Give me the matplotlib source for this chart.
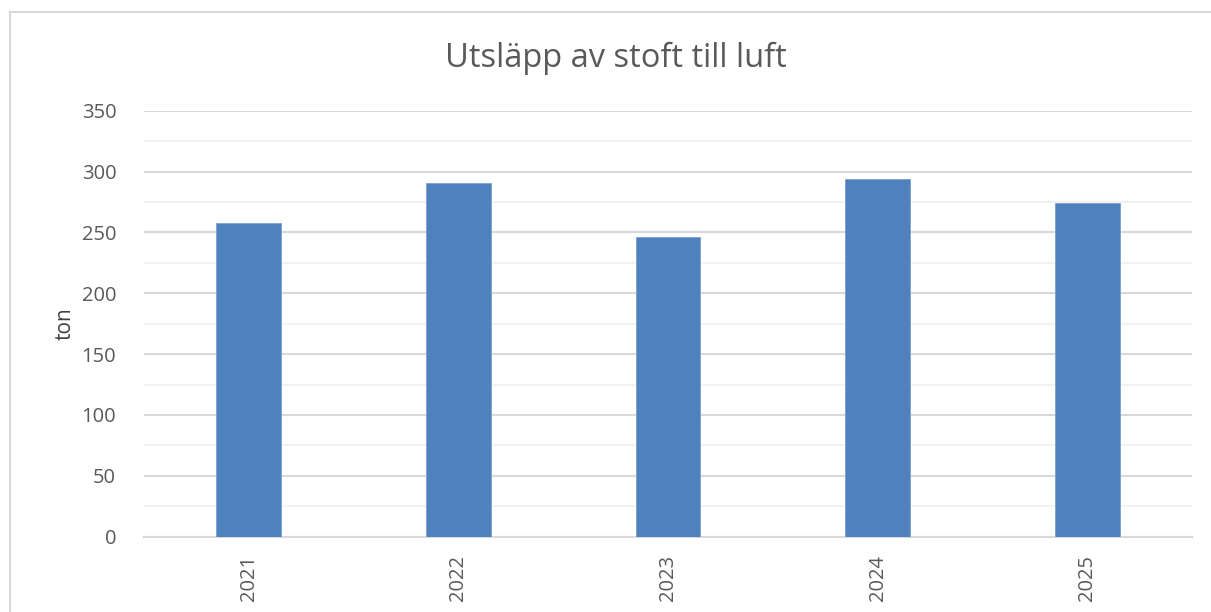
import matplotlib
matplotlib.use('Agg')
import matplotlib.pyplot as plt
from matplotlib.lines import Line2D

plt.rcParams['font.family'] = ['Open Sans', 'DejaVu Sans']

years = ['2021', '2022', '2023', '2024', '2025']
values = [258, 291, 246, 294, 274]

fig = plt.figure(figsize=(12.11, 6.12), dpi=100)
ax = fig.add_axes([144 / 1211, 1 - 536.7 / 612, (1192 - 144) / 1211, (536.7 - 110.7) / 612])

x = range(len(years))
ax.bar(x, values, width=0.31, color='#4f81bd', edgecolor='#7aa0d0', linewidth=0.6, zorder=3)

ax.set_xlim(-0.5, len(years) - 0.5)
ax.set_ylim(0, 350)
ax.set_yticks(range(0, 351, 50))
ax.set_yticks(range(25, 351, 50), minor=True)
ax.set_xticks(list(x))
ax.set_xticklabels(years, rotation=90)

ax.yaxis.grid(True, which='major', color='#d9d9d9', lw=1.5)
ax.yaxis.grid(True, which='minor', color='#f2f2f2', lw=1.5)
for s in ['top', 'right', 'left']:
    ax.spines[s].set_visible(False)
ax.spines['bottom'].set_color('#d9d9d9')
ax.spines['bottom'].set_linewidth(1.5)
ax.tick_params(axis='both', which='both', length=0, colors='#595959', labelsize=14.5)
ax.tick_params(axis='y', pad=20)
ax.tick_params(axis='x', pad=13)

ax.set_ylabel('ton', fontsize=15, color='#404040', labelpad=4)
fig.text(616 / 1211, 1 - 58 / 612, 'Utsläpp av stoft till luft', ha='center', va='center',
         fontsize=23.5, color='#595959')

# chart frame
fig.add_artist(Line2D([10 / 1211, 10 / 1211], [0, 1 - 12 / 612], transform=fig.transFigure,
                      color='#d9d9d9', lw=1.5))
fig.add_artist(Line2D([10 / 1211, 1], [1 - 12 / 612, 1 - 12 / 612], transform=fig.transFigure,
                      color='#d9d9d9', lw=1.5))

fig.savefig('out.png', dpi=100)
